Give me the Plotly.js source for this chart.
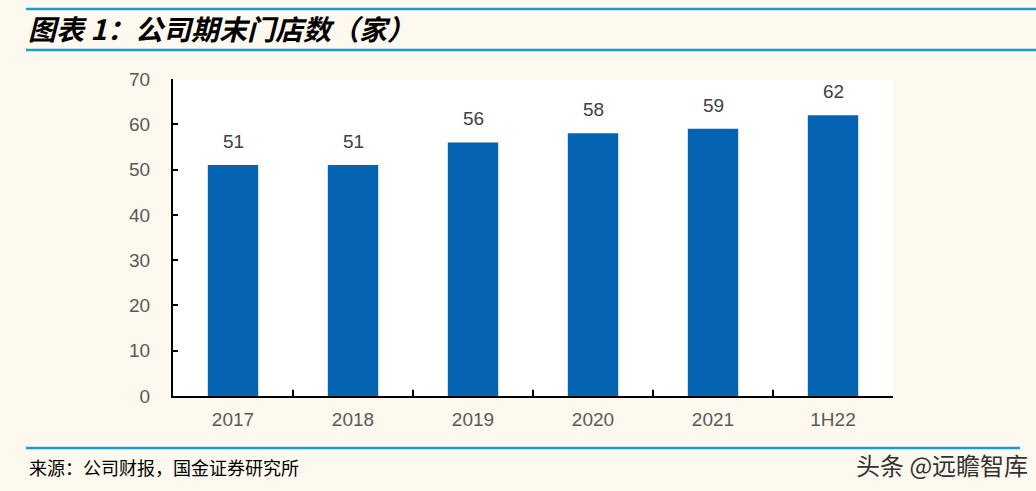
<!DOCTYPE html>
<html><head><meta charset="utf-8">
<script src="https://cdn.plot.ly/plotly-3.0.1.min.js"></script>
<style>html,body{margin:0;padding:0;background:#FEF9EF;}</style>
</head><body>
<div id="chart" style="width:1036px;height:491px;"></div>
<script>
const categories = ["2017","2018","2019","2020","2021","1H22"];
const storeCounts = [51,51,56,58,59,62];
const yTicks = [0,10,20,30,40,50,60,70];

const L=173, R=893, T=79, B=396, W=1036, H=491;
const px = x => (x-L)/(R-L);
const py = y => (B-y)/(B-T);
const lineColor = "#1B9BD7";

const trace = {
  type:"bar", x:categories, y:storeCounts,
  marker:{color:"#0563B4"},
  hoverinfo:"none"
};

const labelAnnotations = categories.map((c,i)=>({
  xref:"x", yref:"y", x:i, y:storeCounts[i], yanchor:"bottom", yshift:11, showarrow:false,
  text:String(storeCounts[i]),
  font:{family:"Arial, Liberation Sans", size:19, color:"#404040"}
}));

const layout = {
  width:W, height:H,
  margin:{l:L, r:W-R, t:T, b:H-B},
  paper_bgcolor:"#FEF9EF", plot_bgcolor:"#FFFFFF",
  bargap:0.58, showlegend:false,
  xaxis:{
    type:"category", range:[-0.5,5.5],
    showline:true, linecolor:"#000", linewidth:2,
    tickfont:{family:"Arial, Liberation Sans", size:19, color:"#595959"},
    ticks:"", showgrid:false, ticklabelstandoff:5
  },
  yaxis:{
    range:[0,70], tickvals:yTicks, showline:true, linecolor:"#000", linewidth:2,
    ticks:"inside", ticklen:5, tickwidth:2, tickcolor:"#000",
    tickfont:{family:"Arial, Liberation Sans", size:19, color:"#595959"},
    showgrid:false, zeroline:false, ticklabelstandoff:17
  },
  shapes:[
    {type:"line", xref:"paper", yref:"paper", x0:px(26), x1:px(1036), y0:py(9), y1:py(9), line:{color:lineColor, width:2.5}},
    {type:"line", xref:"paper", yref:"paper", x0:px(26), x1:px(1036), y0:py(50), y1:py(50), line:{color:lineColor, width:2.5}},
    {type:"line", xref:"paper", yref:"paper", x0:px(26), x1:px(1020), y0:py(448), y1:py(448), line:{color:lineColor, width:2.5}}
  ].concat(categories.slice(1).map((c,i)=>({
    type:"line", xref:"paper", yref:"paper", x0:(i+1)/categories.length, x1:(i+1)/categories.length, y0:0, y1:0.02, line:{color:"#000", width:2}
  }))),
  annotations:labelAnnotations.concat([
    {xref:"paper", yref:"paper", x:px(26), y:py(28), xanchor:"left", yanchor:"middle", showarrow:false,
     text:"<b><i>图表 1：公司期末门店数（家）</i></b>",
     font:{family:"Noto Sans CJK SC", size:28, color:"#000"}},
    {xref:"paper", yref:"paper", x:px(27), y:py(467), xanchor:"left", yanchor:"middle", showarrow:false,
     text:"来源：公司财报，国金证券研究所",
     font:{family:"Noto Sans CJK SC", size:18, color:"#000"}},
    {xref:"paper", yref:"paper", x:px(1030), y:py(464), xanchor:"right", yanchor:"middle", showarrow:false,
     text:"头条 @远瞻智库",
     font:{family:"Noto Sans CJK SC", size:24, color:"#333"}}
  ])
};
Plotly.newPlot("chart",[trace],layout,{staticPlot:true});
</script>
</body></html>
